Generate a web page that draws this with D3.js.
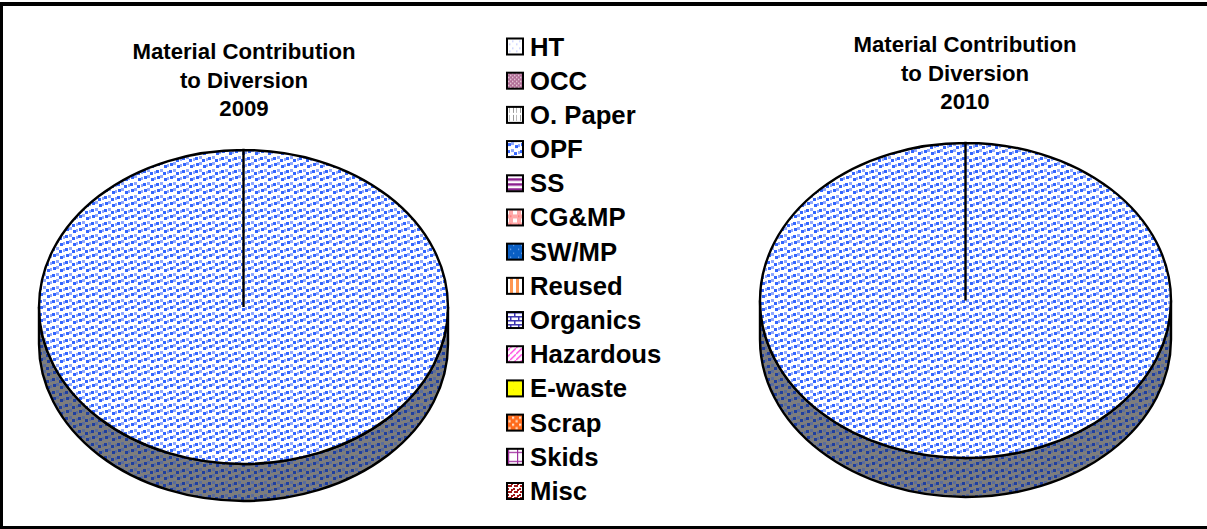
<!DOCTYPE html>
<html>
<head>
<meta charset="utf-8">
<script src="https://cdn.jsdelivr.net/npm/d3@7"></script>
<style>
html,body{margin:0;padding:0;background:#fff;}
svg{display:block;}
text{font-family:"Liberation Sans",Arial,sans-serif;font-weight:bold;fill:#000;}
</style>
</head>
<body>
<svg width="1207" height="529"></svg>
<script>
var materials = ["HT","OCC","O. Paper","OPF","SS","CG&MP","SW/MP","Reused","Organics","Hazardous","E-waste","Scrap","Skids","Misc"];
var values2009 = [0,0,0,100,0,0,0,0,0,0,0,0,0,0];
var values2010 = [0,0,0,100,0,0,0,0,0,0,0,0,0,0];
var titles2009 = ["Material Contribution","to Diversion","2009"];
var titles2010 = ["Material Contribution","to Diversion","2010"];

var svg = d3.select("svg");
var defs = svg.append("defs");

// fill patterns, one per material, all small pixel tiles
function tile(id, w, h, bg, draw){
  var p = defs.append("pattern").attr("id", id)
    .attr("patternUnits","userSpaceOnUse").attr("width",w).attr("height",h);
  p.append("rect").attr("width",w).attr("height",h).attr("fill",bg);
  draw(p);
  return p;
}
function dots(p, pts, c, s, op){
  pts.forEach(function(d){
    p.append("rect").attr("x",d[0]).attr("y",d[1]).attr("width",s).attr("height",s)
      .attr("fill",c).attr("opacity",op||1);
  });
}
function hline(p,y,w,c,t){ p.append("rect").attr("x",0).attr("y",y).attr("width",w).attr("height",t).attr("fill",c); }
function vline(p,x,h,c,t){ p.append("rect").attr("x",x).attr("y",0).attr("width",t).attr("height",h).attr("fill",c); }

tile("p0",7,7,"#fff",function(p){ dots(p,[[1,1],[5,4]],"#c4ccff",1.5); });
tile("p1",4,4,"#b06c96",function(p){ dots(p,[[0,0],[2,2]],"#ecd4e0",1.4); });
tile("p2",7,8,"#fff",function(p){ vline(p,2,6,"#999",1); vline(p,5,6,"#bbb",1); });
tile("p3",13,13,"#fff",function(p){
  dots(p,[[0,1],[7,3],[1,7],[8,9]],"#3366ff",3);
  dots(p,[[4,0],[11,2],[4,6],[11,8]],"#8fa8ff",3);
});
tile("p4",5,5,"#fff",function(p){ hline(p,0,5,"#8b1f8f",2.5); });
tile("p5",8,8,"#ffa8a8",function(p){ dots(p,[[1,1]],"#fff",4); dots(p,[[6,6]],"#ff7070",1.5); });
tile("p6",8,8,"#0a5fc4",function(p){ dots(p,[[1,1],[6,5]],"#7fb0ee",1.2); });
tile("p7",6,6,"#fff",function(p){ vline(p,0,6,"#ff9650",3); });
tile("p8",8,8,"#fff",function(p){ hline(p,0,8,"#3a32b0",1.5); hline(p,4,8,"#3a32b0",1.5);
  p.append("rect").attr("x",2).attr("y",0).attr("width",1.5).attr("height",4).attr("fill","#3a32b0");
  p.append("rect").attr("x",6).attr("y",4).attr("width",1.5).attr("height",4).attr("fill","#3a32b0"); });
tile("p9",6,6,"#fff",function(p){
  p.append("path").attr("d","M0 6L6 0").attr("stroke","#ff40e0").attr("stroke-width",1.3);
});
tile("p10",8,8,"#ffff00",function(p){ dots(p,[[1,1]],"#e6e600",1); });
tile("p11",7,7,"#ff6a1a",function(p){ dots(p,[[1,1],[4.5,4.5]],"#ffe0c8",2.2); });
tile("p12",9,9,"#fff",function(p){ hline(p,4,9,"#a030a0",1.2); vline(p,4,9,"#a030a0",1.2); });
tile("p13",6,6,"#fff",function(p){ dots(p,[[0,0],[3,3],[4,0],[1,4]],"#a01818",2); });
// shaded side of the pie
tile("side",13,13,"#7d7d7d",function(p){
  dots(p,[[0,1],[7,3],[1,7],[8,9]],"#1f3f9f",3);
  dots(p,[[4,0],[11,2],[4,6],[11,8]],"#5a6c9c",3);
});

// frame
svg.append("rect").attr("x",0).attr("y",2).attr("width",1207).attr("height",4).attr("fill","#000");
svg.append("rect").attr("x",0).attr("y",2).attr("width",3).attr("height",527).attr("fill","#000");
svg.append("rect").attr("x",0).attr("y",526).attr("width",1207).attr("height",3).attr("fill","#000");

function drawPie(values, titles, cx, cy, rx, ry, depth, titleX, titleY){
  var pie = d3.pie().sort(null)(values);
  var g = svg.append("g");

  g.append("path")
    .attr("d","M"+(cx-rx)+","+cy+"A"+rx+","+ry+" 0 0 0 "+(cx+rx)+","+cy+
      "L"+(cx+rx)+","+(cy+depth)+"A"+rx+","+ry+" 0 0 1 "+(cx-rx)+","+(cy+depth)+"Z")
    .attr("fill","url(#side)").attr("stroke","#000").attr("stroke-width",2.4);

  // elliptical slices, split in two arcs so a 100% slice still closes
  function pt(a){ return (cx+rx*Math.sin(a))+","+(cy-ry*Math.cos(a)); }
  function slice(d){
    var m = (d.startAngle+d.endAngle)/2;
    return "M"+cx+","+cy+"L"+pt(d.startAngle)+
      "A"+rx+","+ry+" 0 0 1 "+pt(m)+
      "A"+rx+","+ry+" 0 0 1 "+pt(d.endAngle)+"Z";
  }
  g.selectAll("path.slice").data(pie.filter(function(d){ return d.value>0; })).enter().append("path")
    .attr("class","slice")
    .attr("d",slice)
    .attr("fill",function(d){ return "url(#p"+d.index+")"; })
    .attr("stroke","#000")
    .attr("stroke-width",2.4);

  g.selectAll("text.title").data(titles).enter().append("text")
    .attr("class","title")
    .attr("x",titleX)
    .attr("y",function(d,i){ return titleY + i*28.7; })
    .attr("text-anchor","middle")
    .style("font-size","22.2px")
    .text(function(d){ return d; });
}

drawPie(values2009, titles2009, 243.5, 307, 204.5, 157, 37, 244, 59);
drawPie(values2010, titles2010, 965.5, 300.5, 205.5, 157.5, 39, 965, 52);

// legend
var y = d3.scalePoint().domain(materials).range([46.5,491]);
var rows = svg.selectAll("g.row").data(materials).enter().append("g")
  .attr("class","row")
  .attr("transform",function(d){ return "translate(0,"+y(d)+")"; });
rows.append("rect").attr("x",507).attr("y",-8).attr("width",16).attr("height",16)
  .attr("fill",function(d,i){ return "url(#p"+i+")"; })
  .attr("stroke","#000").attr("stroke-width",2);
rows.append("text").attr("x",530).attr("y",9)
  .style("font-size","25.7px")
  .text(function(d){ return d; });
</script>
</body>
</html>
